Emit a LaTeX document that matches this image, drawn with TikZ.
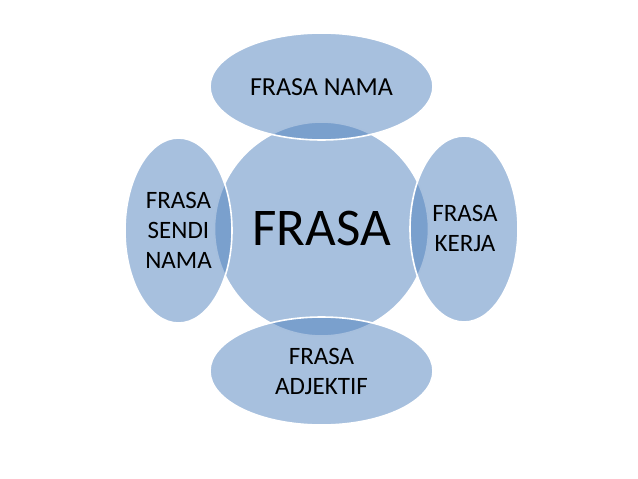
\documentclass[tikz,border=0pt]{standalone}
\usepackage{fontspec}
\setmainfont{Carlito}
\begin{document}
\begin{tikzpicture}[x=1pt,y=-1pt,
  blob/.style={fill={rgb,255:red,79;green,129;blue,189},fill opacity=0.5,draw=white,line width=1.6pt},
  lbl/.style={text=black,align=center,font=\fontsize{25}{30}\selectfont,inner sep=0pt},
  bigl/.style={text=black,font=\fontsize{53}{60}\selectfont,inner sep=0pt}]
\useasboundingbox (0,0) rectangle (638,479);
\path[blob] (321.5,229) circle[radius=107];
\path[blob] (321.5,86.5) ellipse[x radius=111.5,y radius=53.5];
\path[blob] (178.5,230.5) ellipse[x radius=53.5,y radius=92.5];
\path[blob] (464,229) ellipse[x radius=54,y radius=93];
\path[blob] (321.5,371) ellipse[x radius=111.5,y radius=54];
\node[bigl] (c) at (321.5,228) {FRASA};
\node[lbl,font=\fontsize{26}{31}\selectfont] (t) at (321.5,87) {FRASA NAMA};
\node[lbl] (l) at (178.5,230) {FRASA\\SENDI\\NAMA};
\node[lbl] (r) at (465,228) {FRASA\\KERJA};
\node[lbl] (b) at (321.5,371) {FRASA\\ADJEKTIF};
\end{tikzpicture}
\end{document}
